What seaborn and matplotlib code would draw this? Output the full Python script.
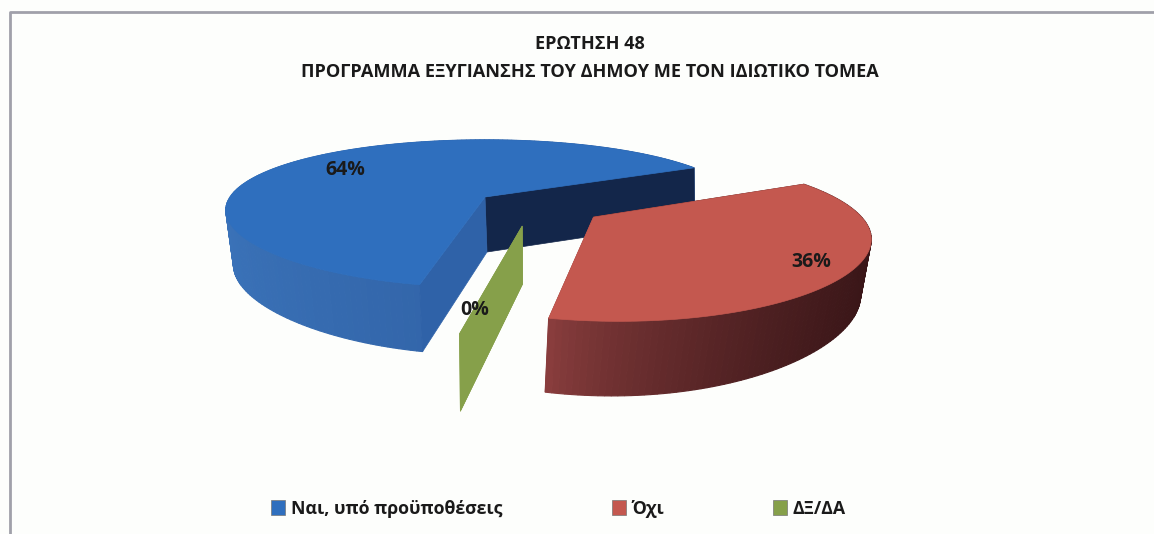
import numpy as np
import matplotlib
matplotlib.use("Agg")
import matplotlib.pyplot as plt
from matplotlib.patches import Patch
import seaborn as sns

categories = ["Ναι, υπό προϋποθέσεις", "Όχι", "ΔΞ/ΔΑ"]
shares = [64, 36, 0]
title_lines = ["ΕΡΩΤΗΣΗ 48", "ΠΡΟΓΡΑΜΜΑ ΕΞΥΓΙΑΝΣΗΣ ΤΟΥ ΔΗΜΟΥ ΜΕ ΤΟΝ ΙΔΙΩΤΙΚΟ ΤΟΜΕΑ"]

W, H = 1154, 534
BG = "#fdfefc"
sns.set_theme(style="white")
plt.rcParams["font.family"] = ["Open Sans", "DejaVu Sans"]

top_colors = ["#2f6fbe", "#c4584f", "#86a04a"]
rim_left = ["#3a72b8", "#8c3f3f", "#86a04a"]   # colour of the outer wall at its left end
rim_right = ["#2d5c9f", "#3a1618", "#86a04a"]  # colour at its right end
wall_far = ["#13264a", "#8c3f3f", "#86a04a"]
wall_near = ["#2f62a8", "#3a1618", "#86a04a"]
walls_behind_rim = [False, True, False]
explode = [(0.0, 0.0), (0.405, -0.269), (0.136, -0.379)]
label_xy = [(345, 170), (811, 262), (475, 310)]

START = 257.8  # degrees, slices run clockwise
TOP = dict(cx=485, cy=197, rx=255, ry=70, k=0.225, kx=0.18, sh=0)
BOT = dict(cx=487, cy=252, rx=250, ry=76, k=0.26, kx=0.16, sh=1.5)


def project(u, v, p):
    s = 1 / (1 + p["k"] * v)
    sx = 1 / (1 + p["kx"] * v)
    return p["cx"] + p["rx"] * u * sx + p["sh"] * v * sx, p["cy"] - p["ry"] * v * s


def rim(a, off):
    return np.cos(a) + off[0], np.sin(a) + off[1]


def mix(c1, c2, t):
    a, b = np.array(matplotlib.colors.to_rgb(c1)), np.array(matplotlib.colors.to_rgb(c2))
    return tuple(a + (b - a) * t)


fig = plt.figure(figsize=(W / 100, H / 100), dpi=100, facecolor=BG)
ax = fig.add_axes([0, 0, 1, 1])
ax.set_xlim(0, W)
ax.set_ylim(H, 0)
ax.axis("off")

# frame: left and top sides only reach the picture
ax.plot([10, 10, W], [H, 12, 12], color="#a0a0aa", lw=2, zorder=1)

cum = np.cumsum([0] + shares)
z = 2
for i in [0, 2, 1]:
    a0 = np.radians(START - cum[i] * 3.6)
    a1 = np.radians(START - cum[i + 1] * 3.6)
    off = explode[i]
    aa = np.linspace(a0, a1, max(2, int(abs(shares[i]) * 3)))
    ux, vy = rim(aa, off)
    tx, ty = project(ux, vy, TOP)
    bx, by = project(ux, vy, BOT)
    ax0t, ay0t = project(off[0], off[1], TOP)
    ax0b, ay0b = project(off[0], off[1], BOT)

    def draw_walls(z):
        for (xt, yt, xb, yb, c) in [(tx[-1], ty[-1], bx[-1], by[-1], wall_far[i]),
                                    (tx[0], ty[0], bx[0], by[0], wall_near[i])]:
            ax.fill([ax0t, xt, xb, ax0b], [ay0t, yt, yb, ay0b], color=c, lw=0.5, zorder=z)
            z += 1
        return z

    if walls_behind_rim[i]:
        z = draw_walls(z)
    if shares[i] > 0:
        xmin, xmax = tx.min(), tx.max()
        for j in range(len(aa) - 1):
            t = ((tx[j] + tx[j + 1]) / 2 - xmin) / (xmax - xmin)
            c = mix(rim_left[i], rim_right[i], t ** 0.7)
            ax.fill([tx[j], tx[j + 1], bx[j + 1], bx[j]], [ty[j], ty[j + 1], by[j + 1], by[j]],
                    color=c, lw=0.8, zorder=z)
        z += 1
    if not walls_behind_rim[i]:
        z = draw_walls(z)
    if shares[i] > 0:
        ax.fill(np.r_[ax0t, tx], np.r_[ay0t, ty], color=top_colors[i], lw=0.5, zorder=z)
        z += 1

for v, (x, y) in zip(shares, label_xy):
    ax.text(x, y, f"{v}%", ha="center", va="center", fontsize=14, fontweight="bold",
            color="#1a1a1a", zorder=50)

ax.text(590, 44, title_lines[0], ha="center", va="center", fontsize=13.1, fontweight="bold", color="#1a1a1a")
ax.text(590, 72, title_lines[1], ha="center", va="center", fontsize=13.1, fontweight="bold", color="#1a1a1a")

handles = [Patch(facecolor=c, edgecolor="#777777", lw=0.5, label=n) for c, n in zip(top_colors, categories)]
leg = ax.legend(handles=handles, loc="center", bbox_to_anchor=(558.5 / W, 1 - 509 / H), ncol=3, frameon=False,
                handlelength=0.8, handleheight=0.9, handletextpad=0.3, columnspacing=6.15,
                prop={"weight": "bold", "size": 12.8, "family": ["Open Sans", "DejaVu Sans"]})
for t in leg.get_texts():
    t.set_color("#1a1a1a")

fig.savefig("out.png", dpi=100, facecolor=BG)
